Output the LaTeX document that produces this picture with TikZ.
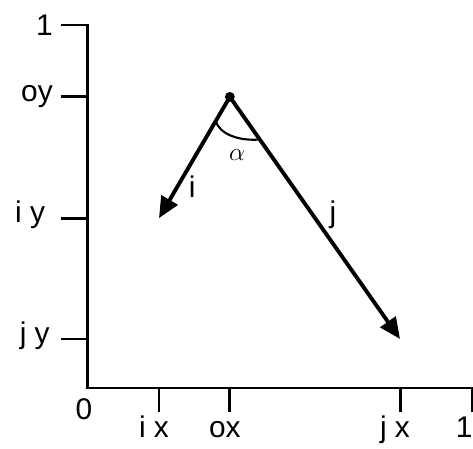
\documentclass[tikz,border=0pt]{standalone}
\usepackage{fontspec}
\setmainfont{Liberation Sans}
\usetikzlibrary{arrows.meta,calc,positioning}

\begin{document}
\begin{tikzpicture}[
        x=7.7cm, y=7.26cm,
        axis/.style={line width=1.7pt, line join=miter},
        vec/.style={line width=2.2pt, -{Triangle[length=12pt,width=10.5pt]}},
        lbl/.style={font=\fontsize{17}{19}\selectfont, inner sep=0pt},
      ]
        \useasboundingbox (-0.226,-0.1653) rectangle (1.0026,1.0689);

        % axes with the two corner ticks
        \coordinate (orig) at (0,0);
        \coordinate (ytop) at (0,1);
        \coordinate (xend) at (1,0);
        \draw[axis] ($(ytop)+(-0.0675,0)$) -- (ytop) -- (orig) -- (xend) -- ++(0,-0.066);
        \node[lbl,anchor=east] (lone) at (-0.088,1) {1};
        \node[lbl,anchor=base east] (lxone) at (1.002,-0.135) {1};
        \node[lbl,anchor=base] (lzero) at (-0.008,-0.088) {0};

        % y ticks
        \foreach \nm/\yy/\xl/\txt in {oy/0.802/-0.088/oy, iy/0.468/-0.108/i y, jy/0.135/-0.096/j y} {
          \coordinate (t\nm) at (0,\yy);
          \draw[axis] (t\nm) -- ++(-0.0675,0);
          \node[lbl,anchor=mid east] (l\nm) at (\xl,\yy) {\txt};
        }

        % x ticks
        \foreach \nm/\xx/\txt in {ix/0.187/i x, ox/0.371/ox, jx/0.813/j x} {
          \coordinate (t\nm) at (\xx,0);
          \draw[axis] (t\nm) -- ++(0,-0.066);
          \node[lbl,anchor=base] (l\nm) at (\xx-0.013,-0.135) {\txt};
        }

        % the two vectors from o
        \coordinate (o) at (0.371,0.802);
        \coordinate (i) at (0.187,0.468);
        \coordinate (j) at (0.813,0.135);
        \draw[vec] (o) -- (i);
        \draw[vec] (o) -- (j);
        \fill (o) circle (2.8pt);
        \node[lbl,anchor=base] (li) at (0.273,0.526) {i};
        \node[lbl,anchor=base] (lj) at (0.639,0.457) {j};

        % angle
        \coordinate (a1) at ($(o)!0.2!(i)$);
        \coordinate (a2) at ($(o)!0.176!(j)$);
        \draw[line width=1.2pt] (a1) .. controls (0.345,0.700) and (0.392,0.680) .. (a2);
        \node[font=\fontsize{15}{17}\selectfont] (lalpha) at (0.390,0.642) {$\alpha$};
      \end{tikzpicture}
\end{document}
